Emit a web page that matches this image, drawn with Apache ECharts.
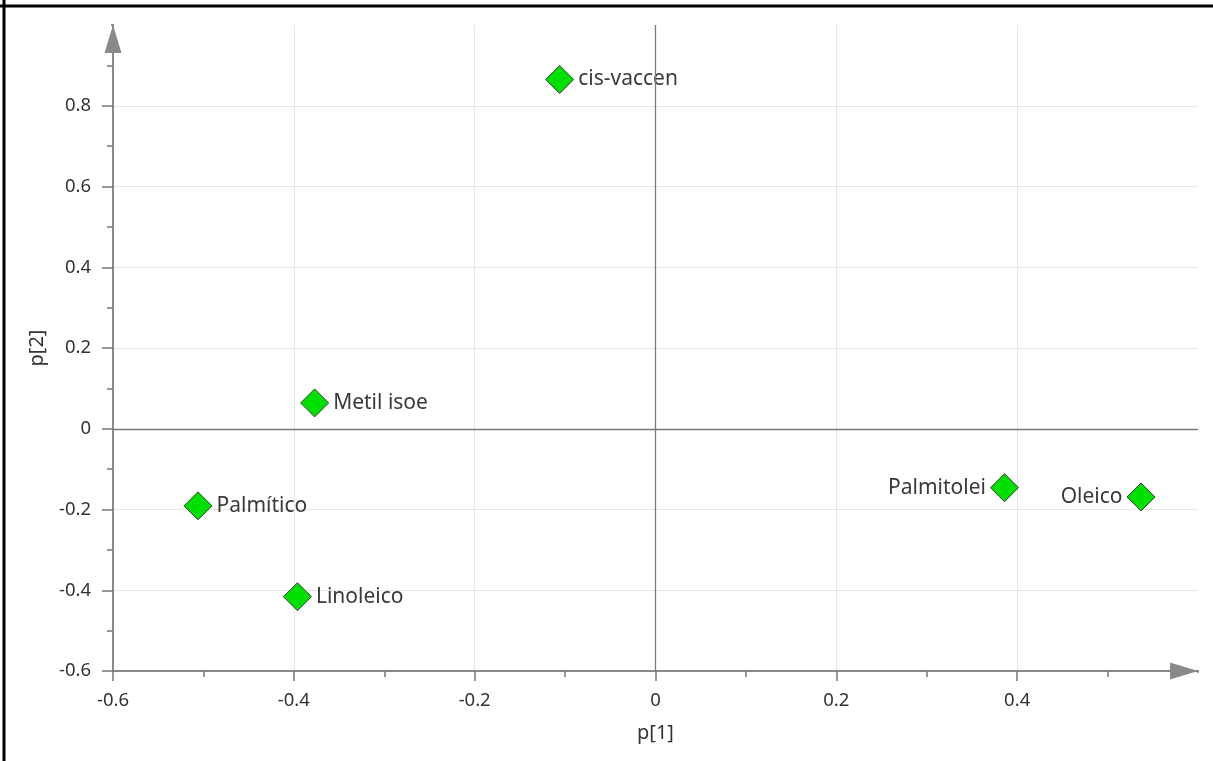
<!DOCTYPE html>
<html><head><meta charset="utf-8">
<script src="https://cdn.jsdelivr.net/npm/echarts@6/dist/echarts.min.js"></script>
<style>html,body{margin:0;padding:0;background:#fff}#c{width:1213px;height:761px}</style>
</head><body><div id="c"></div>
<script>
const names = ['cis-vaccen','Metil isoe','Palmítico','Linoleico','Palmitolei','Oleico'];
const p1 = [-0.106, -0.377, -0.506, -0.396, 0.386, 0.537];
const p2 = [0.865, 0.064, -0.191, -0.416, -0.146, -0.169];
const labelSide = ['right','right','right','right','left','left'];
const xLabels = ['-0.6','-0.4','-0.2','0','0.2','0.4'];
const yLabels = ['-0.6','-0.4','-0.2','0','0.2','0.4','0.6','0.8'];
const xRange = [-0.6, 0.6];
const yRange = [-0.6, 1.0];

const font = "'Noto Sans', 'Open Sans', sans-serif";
const chart = echarts.init(document.getElementById('c'));
const data = names.map((n,i)=>({
  name:n, value:[p1[i], p2[i]],
  label:{position:labelSide[i], distance:4}
}));
const fmt = list => v => { const s = String(+v.toFixed(1)); return list.includes(s)?s:''; };
const axisColor = '#8a8a8a';
chart.setOption({
  animation:false,
  grid:{left:113,right:15,top:25,bottom:90,containLabel:false},
  xAxis:{
    type:'value', min:xRange[0], max:xRange[1], interval:0.2,
    name:'p[1]', nameLocation:'middle', nameGap:52,
    nameTextStyle:{color:'#333',fontSize:20,fontFamily:font},
    axisLine:{show:true,onZero:false,symbol:['none','triangle'],symbolSize:[17,28],symbolOffset:[0,-14],lineStyle:{color:axisColor,width:2}},
    axisTick:{show:true,length:10,lineStyle:{color:'#777',width:1.5}},
    minorTick:{show:true,splitNumber:2,length:6,lineStyle:{color:'#777',width:1.5}},
    axisLabel:{formatter:fmt(xLabels),color:'#333',fontSize:18.5,fontFamily:font,margin:20},
    splitLine:{show:true,showMinLine:false,showMaxLine:false,lineStyle:{color:'#e6e6e6',width:1}}
  },
  yAxis:{
    type:'value', min:yRange[0], max:yRange[1], interval:0.2,
    name:'p[2]', nameLocation:'middle', nameGap:66, nameRotate:90,
    nameTextStyle:{color:'#333',fontSize:20,fontFamily:font},
    axisLine:{show:true,onZero:false,symbol:['none','triangle'],symbolSize:[17,28],symbolOffset:[0,-14],lineStyle:{color:axisColor,width:2}},
    axisTick:{show:true,length:11,lineStyle:{color:'#777',width:1.5}},
    minorTick:{show:true,splitNumber:2,length:6,lineStyle:{color:'#777',width:1.5}},
    axisLabel:{formatter:fmt(yLabels),color:'#333',fontSize:18.5,fontFamily:font,margin:22},
    splitLine:{show:true,showMinLine:false,showMaxLine:false,lineStyle:{color:'#e6e6e6',width:1}}
  },
  series:[{
    type:'scatter', symbol:'diamond', symbolSize:[28,28],
    itemStyle:{color:'#00e000',borderColor:'#3c3c3c',borderWidth:1,opacity:1},
    label:{show:true,formatter:'{b}',color:'#3a3a3a',fontSize:21,fontFamily:font},
    data:data,
    markLine:{silent:true,symbol:'none',label:{show:false},
      lineStyle:{color:'#7a7a7a',width:1.3,type:'solid'},
      data:[{xAxis:0},{yAxis:0}]}
  }]
});
// hide the ticks that sit under the arrow tips (axis max)
const xEnd = chart.convertToPixel({gridIndex:0},[xRange[1], yRange[0]]);
const yEnd = chart.convertToPixel({gridIndex:0},[xRange[0], yRange[1]]);
chart.setOption({graphic:[
  {type:'rect',shape:{x:xEnd[0]-1.5,y:xEnd[1]+2,width:4,height:12},style:{fill:'#fff'},z:100},
  {type:'rect',shape:{x:yEnd[0]-14,y:yEnd[1]-2,width:12,height:4},style:{fill:'#fff'},z:100},
  {type:'line',shape:{x1:4,y1:0,x2:4,y2:761},style:{stroke:'#000',lineWidth:3},z:100},
  {type:'line',shape:{x1:0,y1:6,x2:1213,y2:6},style:{stroke:'#000',lineWidth:3},z:100}
]});
</script></body></html>
